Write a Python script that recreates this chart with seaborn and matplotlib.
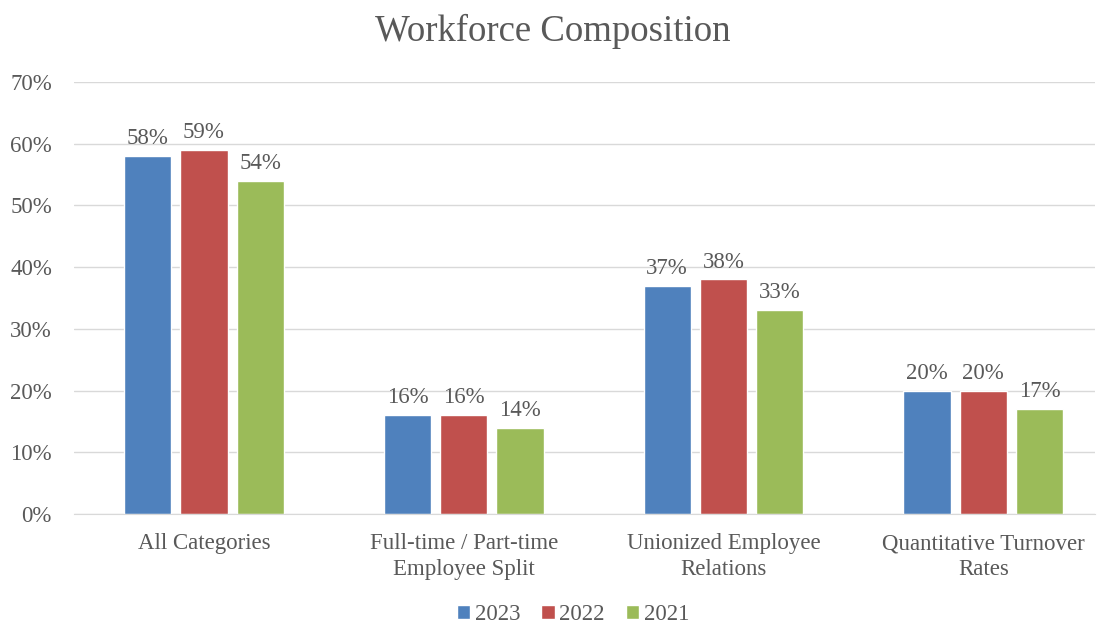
import pandas as pd
import matplotlib.pyplot as plt
import seaborn as sns

# Chart data
categories = ['All Categories', 'Full-time / Part-time\nEmployee Split',
              'Unionized Employee\nRelations', 'Quantitative Turnover\nRates']
years = ['2023', '2022', '2021']
vals_2023 = [58, 16, 37, 20]
vals_2022 = [59, 16, 38, 20]
vals_2021 = [54, 14, 33, 17]

df = pd.DataFrame({
    'category': categories * 3,
    'year': [y for y in years for _ in categories],
    'value': vals_2023 + vals_2022 + vals_2021,
})

sns.set_style('white')
plt.rcParams['font.family'] = ['Liberation Serif', 'DejaVu Serif']
txt = '#595959'

fig = plt.figure(figsize=(11.06, 6.28), dpi=100)
ax = fig.add_axes([0.067, 0.1815, 0.923, 0.688])

palette = {'2023': '#4F81BD', '2022': '#C0504D', '2021': '#9BBB59'}
sns.barplot(data=df, x='category', y='value', hue='year', palette=palette,
            width=0.65, gap=0.16, ax=ax, legend=True, saturation=1)

for cont in ax.containers:
    ax.bar_label(cont, labels=[f'{v:.0f}%' for v in cont.datavalues],
                 padding=5, fontsize=16.5, color=txt)

ax.set_ylim(0, 70)
ax.set_xlim(-0.5, 3.43)
ax.set_yticks(range(0, 71, 10))
ax.set_yticklabels([f'{t}%' for t in range(0, 71, 10)])
ax.yaxis.grid(True, color='#D9D9D9', linewidth=1)
ax.set_axisbelow(True)
for s in ['top', 'right', 'left']:
    ax.spines[s].set_visible(False)
ax.spines['bottom'].set_color('#D9D9D9')
ax.tick_params(axis='both', labelsize=16.5, colors=txt, length=0)
ax.tick_params(axis='y', pad=16)
ax.tick_params(axis='x', pad=14)
for lbl in ax.get_xticklabels():
    lbl.set_linespacing(1.3)
ax.set_xlabel('')
ax.set_ylabel('')

fig.suptitle('Workforce Composition', y=0.978, fontsize=26.5, color=txt)

handles, labels = ax.get_legend_handles_labels()
ax.get_legend().remove()
fig.legend(handles, labels, loc='lower center', bbox_to_anchor=(0.518, -0.028),
           ncol=3, frameon=False, fontsize=16.5, labelcolor=txt,
           handlelength=0.6, handleheight=0.6, handletextpad=0.2, columnspacing=0.9)

fig.savefig('out.png', dpi=100)
